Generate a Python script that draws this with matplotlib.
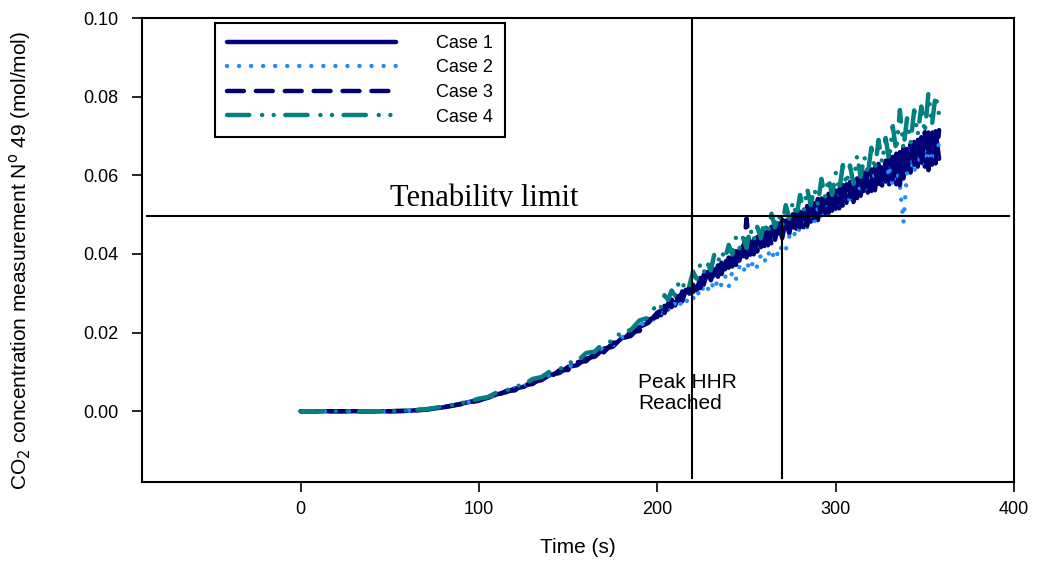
"""\
    co2_tenability.py

CO2 concentration at measurement point 49 for four cases, with the
tenability limit and the time at which the peak HRR is reached marked.
Values are read off the original figure by eye.
"""
import matplotlib
matplotlib.use("Agg")
import matplotlib.pyplot as plt
from matplotlib.transforms import Bbox, TransformedBbox

# time (s)
time = [0, 10, 20, 30, 40, 50, 60, 70, 80, 90,
        100, 105, 110, 115, 120, 125, 130, 135, 140, 145,
        150, 155, 160, 165, 170, 175, 180, 185, 190, 195,
        200, 202, 204, 206, 208, 210, 212, 214, 216, 218,
        220, 222, 224, 226, 228, 230, 232, 234, 236, 238,
        240, 242, 244, 246, 248, 250, 252, 254, 256, 258,
        260, 262, 264, 266, 268, 270, 272, 274, 276, 278,
        280, 282, 284, 286, 288, 290, 292, 294, 296, 298,
        300, 302, 304, 306, 308, 310, 312, 314, 316, 318,
        320, 322, 324, 326, 328, 330, 332, 334, 336, 338,
        340, 342, 344, 346, 348, 350, 352, 354, 356, 358]

# CO2 concentration (mol/mol)
case_1 = [0.0, 0.0, 0.0, 0.0, 0.0, 0.0, 0.0001, 0.0004, 0.0010, 0.0019,
          0.0029, 0.0034, 0.0043, 0.0048, 0.0058, 0.0062, 0.0074, 0.0079, 0.0093, 0.0097,
          0.0113, 0.0117, 0.0134, 0.0139, 0.0159, 0.0164, 0.0186, 0.0191, 0.0214, 0.0225,
          0.0251, 0.0244, 0.0268, 0.0259, 0.0284, 0.0269, 0.0293, 0.0280, 0.0309, 0.0299,
          0.0322, 0.0307, 0.0339, 0.0322, 0.0354, 0.0333, 0.0361, 0.0342, 0.0378, 0.0361,
          0.0391, 0.0368, 0.0407, 0.0383, 0.0421, 0.0391, 0.0428, 0.0399, 0.0443, 0.0417,
          0.0455, 0.0422, 0.0469, 0.0436, 0.0477, 0.0440, 0.0485, 0.0452, 0.0501, 0.0464,
          0.0507, 0.0468, 0.0522, 0.0482, 0.0529, 0.0486, 0.0541, 0.0502, 0.0553, 0.0510,
          0.0561, 0.0516, 0.0575, 0.0530, 0.0583, 0.0532, 0.0592, 0.0548, 0.0607, 0.0556,
          0.0615, 0.0562, 0.0629, 0.0574, 0.0637, 0.0577, 0.0647, 0.0577, 0.0659, 0.0592,
          0.0667, 0.0607, 0.0685, 0.0622, 0.0697, 0.0622, 0.0709, 0.0627, 0.0712, 0.0642]
case_2 = [0.0, 0.0, 0.0, 0.0, 0.0, 0.0, 0.0001, 0.0004, 0.0010, 0.0019,
          0.0029, 0.0035, 0.0043, 0.0050, 0.0058, 0.0065, 0.0074, 0.0083, 0.0093, 0.0102,
          0.0113, 0.0121, 0.0135, 0.0143, 0.0160, 0.0168, 0.0188, 0.0197, 0.0218, 0.0230,
          0.0236, 0.0252, 0.0243, 0.0262, 0.0256, 0.0276, 0.0263, 0.0285, 0.0276, 0.0294,
          0.0285, 0.0308, 0.0292, 0.0319, 0.0305, 0.0330, 0.0308, 0.0337, 0.0319, 0.0344,
          0.0316, 0.0355, 0.0335, 0.0367, 0.0350, 0.0380, 0.0358, 0.0385, 0.0366, 0.0397,
          0.0378, 0.0407, 0.0385, 0.0413, 0.0393, 0.0424, 0.0410, 0.0445, 0.0435, 0.0470,
          0.0458, 0.0490, 0.0467, 0.0500, 0.0480, 0.0516, 0.0494, 0.0526, 0.0502, 0.0536,
          0.0515, 0.0552, 0.0523, 0.0562, 0.0536, 0.0576, 0.0548, 0.0585, 0.0556, 0.0595,
          0.0567, 0.0607, 0.0572, 0.0616, 0.0581, 0.0625, 0.0571, 0.0625, 0.0573, 0.0480,
          0.0608, 0.0645, 0.0605, 0.0657, 0.0620, 0.0670, 0.0620, 0.0680, 0.0632, 0.0685]
case_3 = [0.0, 0.0, 0.0, 0.0, 0.0, 0.0, 0.0001, 0.0004, 0.0010, 0.0018,
          0.0027, 0.0036, 0.0040, 0.0051, 0.0053, 0.0067, 0.0069, 0.0085, 0.0086, 0.0104,
          0.0105, 0.0125, 0.0127, 0.0148, 0.0150, 0.0174, 0.0176, 0.0202, 0.0204, 0.0233,
          0.0240, 0.0265, 0.0249, 0.0274, 0.0265, 0.0296, 0.0282, 0.0305, 0.0288, 0.0316,
          0.0303, 0.0332, 0.0313, 0.0347, 0.0333, 0.0366, 0.0340, 0.0371, 0.0349, 0.0386,
          0.0365, 0.0398, 0.0372, 0.0413, 0.0392, 0.0490, 0.0398, 0.0436, 0.0406, 0.0450,
          0.0420, 0.0460, 0.0425, 0.0473, 0.0445, 0.0487, 0.0450, 0.0490, 0.0455, 0.0505,
          0.0468, 0.0513, 0.0472, 0.0525, 0.0492, 0.0540, 0.0495, 0.0543, 0.0502, 0.0557,
          0.0515, 0.0565, 0.0520, 0.0577, 0.0540, 0.0593, 0.0542, 0.0595, 0.0550, 0.0610,
          0.0560, 0.0620, 0.0565, 0.0633, 0.0585, 0.0650, 0.0590, 0.0655, 0.0575, 0.0670,
          0.0615, 0.0680, 0.0620, 0.0695, 0.0625, 0.0710, 0.0613, 0.0720, 0.0630, 0.0715]
case_4 = [0.0, 0.0, 0.0, 0.0, 0.0, 0.0, 0.0002, 0.0005, 0.0012, 0.0020,
          0.0032, 0.0036, 0.0048, 0.0052, 0.0063, 0.0067, 0.0082, 0.0087, 0.0102, 0.0106,
          0.0123, 0.0127, 0.0148, 0.0152, 0.0175, 0.0178, 0.0203, 0.0206, 0.0231, 0.0238,
          0.0275, 0.0265, 0.0295, 0.0283, 0.0307, 0.0293, 0.0328, 0.0314, 0.0333, 0.0321,
          0.0355, 0.0337, 0.0373, 0.0352, 0.0378, 0.0358, 0.0401, 0.0380, 0.0406, 0.0387,
          0.0423, 0.0399, 0.0441, 0.0414, 0.0442, 0.0415, 0.0466, 0.0434, 0.0469, 0.0440,
          0.0482, 0.0451, 0.0502, 0.0468, 0.0502, 0.0470, 0.0524, 0.0490, 0.0532, 0.0496,
          0.0550, 0.0508, 0.0566, 0.0525, 0.0567, 0.0526, 0.0591, 0.0544, 0.0592, 0.0550,
          0.0607, 0.0561, 0.0626, 0.0577, 0.0625, 0.0578, 0.0650, 0.0596, 0.0649, 0.0603,
          0.0670, 0.0613, 0.0690, 0.0633, 0.0695, 0.0638, 0.0725, 0.0661, 0.0766, 0.0668,
          0.0745, 0.0683, 0.0765, 0.0703, 0.0775, 0.0708, 0.0810, 0.0728, 0.0805, 0.0753]

case_labels = ["Case 1", "Case 2", "Case 3", "Case 4"]

tenability = 0.0496        # tenability limit (mol/mol)
t_peak_hrr = 219.5         # peak HRR reached (s)
t_tenable = 270.0          # tenability limit crossed (s)

x_ticks = [0, 100, 200, 300, 400]
y_ticks = [0.00, 0.02, 0.04, 0.06, 0.08, 0.10]

plt.rcParams['font.family'] = ['Liberation Sans', 'DejaVu Sans']

styles = [dict(color='#000080', ls='-'),
          dict(color='#1e8cff', ls=(0, (0.01, 2.7))),
          dict(color='#000070', ls=(0, (3.8, 2.7))),
          dict(color='#008080', ls=(0, (5.0, 2.9, 0.01, 2.6, 0.01, 2.6)))]

fig = plt.figure(figsize=(10.38, 5.65), dpi=100)
ax = fig.add_axes([0.1368, 0.1469, 0.8401, 0.8212])

for y, label, st in zip([case_1, case_2, case_3, case_4], case_labels, styles):
    ax.plot(time, y, lw=3.2, solid_capstyle='round', dash_capstyle='round',
            solid_joinstyle='round', label=label, **st)

# reference lines drawn over the data
ax.plot([-86, 397], [tenability, tenability], color='black', lw=1.5,
        clip_on=False, zorder=5)
ax.plot([t_peak_hrr, t_peak_hrr], [0.10, -0.0171], color='black', lw=1.5,
        zorder=5)
ax.plot([t_tenable, t_tenable], [tenability, -0.0171], color='black', lw=1.5,
        zorder=5)

txt = ax.text(50, 0.0522, "Tenability limit", family='Liberation Serif',
              fontsize=22, ha='left', va='baseline')
# the original label is cut off just above the limit line
txt.set_clip_box(TransformedBbox(Bbox([[0, 0.0519], [250, 0.09]]),
                                 ax.transData))
txt.set_clip_on(True)

ax.text(189.3, 0.0097, "Peak HHR\nReached", fontsize=15, ha='left', va='top',
        linespacing=1.1, zorder=3)

ax.set_xlim(-89, 400)
ax.set_ylim(-0.018, 0.10)
ax.set_xticks(x_ticks)
ax.set_yticks(y_ticks)
ax.set_yticklabels([f"{v:.2f}" for v in y_ticks])
ax.tick_params(direction='out', length=7, width=1.2, labelsize=13)
ax.tick_params(axis='y', pad=10)
ax.tick_params(axis='x', pad=7)
for s in ax.spines.values():
    s.set_linewidth(1.5)

ax.set_xlabel("Time (s)", fontsize=15, labelpad=14)
ax.set_ylabel("CO$_2$ concentration measurement N$^{\\mathrm{o}}$ 49 (mol/mol)",
              fontsize=15)
ax.yaxis.set_label_coords(-0.125, 0.478)

leg = ax.legend(loc='upper left', bbox_to_anchor=(0.0837, 0.989),
                borderaxespad=0, fontsize=13, handlelength=9.4,
                handletextpad=2.2, labelspacing=0.42, borderpad=0.65,
                fancybox=False, framealpha=1, edgecolor='black')
leg.get_frame().set_linewidth(1.5)

fig.savefig("out.png", dpi=100)
